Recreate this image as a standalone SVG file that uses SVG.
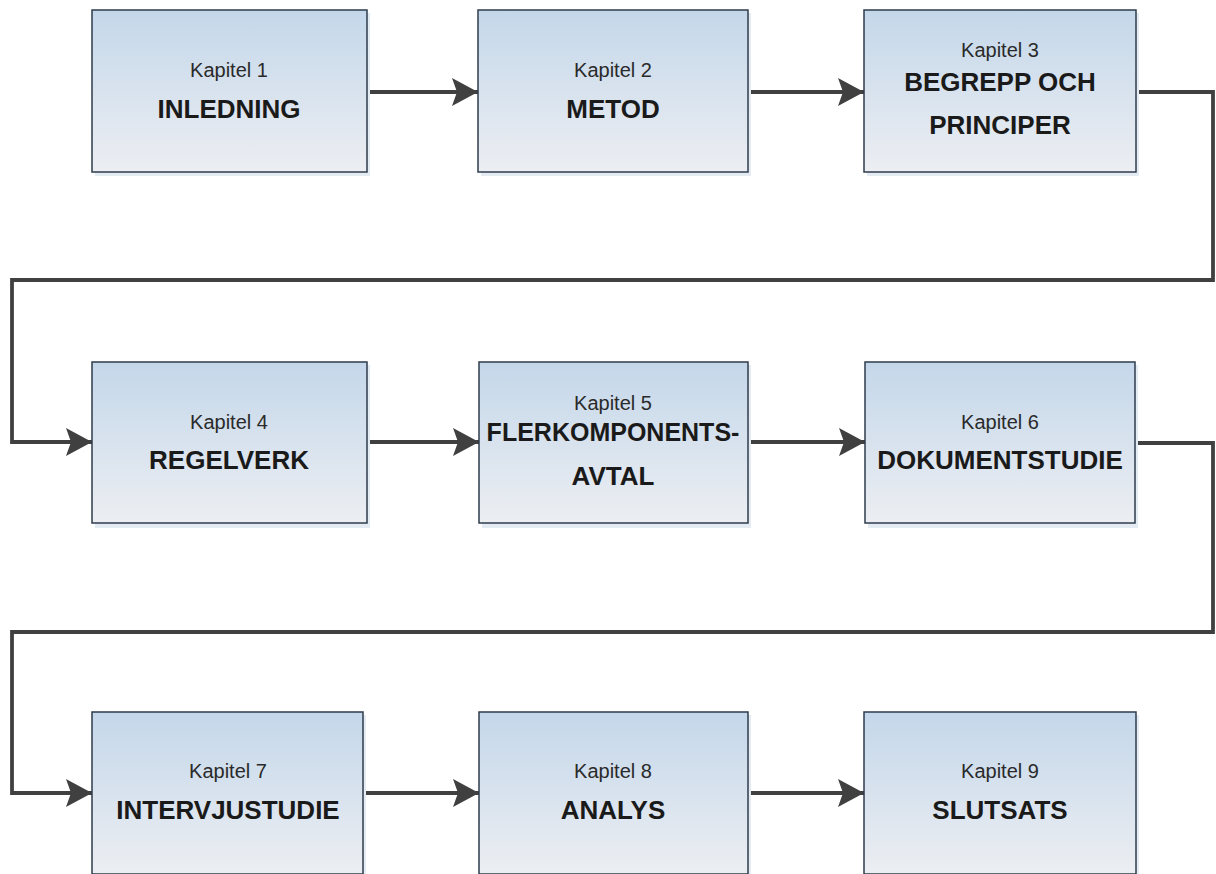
<svg xmlns="http://www.w3.org/2000/svg" width="1216" height="874" viewBox="0 0 1216 874">
<defs>
<linearGradient id="boxfill" x1="0" y1="0" x2="0" y2="1">
<stop offset="0" stop-color="#c4d7ea"/>
<stop offset="1" stop-color="#eceef2"/>
</linearGradient>
<marker id="arrow" markerUnits="userSpaceOnUse" markerWidth="28" markerHeight="30" refX="26" refY="14" orient="auto">
<path d="M0,0 L26,14 L0,28 L5,14 Z" fill="#404040"/>
</marker>
<style>
.box{fill:url(#boxfill);stroke:#2e3c4c;stroke-width:1.5}
.shadow{fill:#e4ebf3}
.cap{font-family:"Liberation Sans",Arial,sans-serif;font-size:20px;fill:#2a2a2a;text-anchor:middle}
.title{font-family:"Liberation Sans",Arial,sans-serif;font-size:26px;font-weight:bold;fill:#1a1a1a;text-anchor:middle}
.conn{fill:none;stroke:#404040;stroke-width:3.8;stroke-linejoin:miter}
</style>
</defs>
<rect width="1216" height="874" fill="#ffffff"/>
<g id="connectors">
<path class="conn" d="M367,92 H478" marker-end="url(#arrow)"/>
<path class="conn" d="M748,92 H864" marker-end="url(#arrow)"/>
<path class="conn" d="M1136,92 H1213 V280 H12 V442 H92" marker-end="url(#arrow)"/>
<path class="conn" d="M367,442 H479" marker-end="url(#arrow)"/>
<path class="conn" d="M748,442 H865" marker-end="url(#arrow)"/>
<path class="conn" d="M1135,443 H1213 V632 H12 V793 H92" marker-end="url(#arrow)"/>
<path class="conn" d="M363,793 H479" marker-end="url(#arrow)"/>
<path class="conn" d="M748,793 H864" marker-end="url(#arrow)"/>
</g>
<g id="node1">
<rect class="shadow" x="95" y="13" width="275" height="163"/>
<rect class="box" x="92" y="10" width="275" height="162"/>
<text class="cap" x="229" y="77">Kapitel 1</text>
<text class="title" x="229" y="118">INLEDNING</text>
</g>
<g id="node2">
<rect class="shadow" x="481" y="13" width="270" height="163"/>
<rect class="box" x="478" y="10" width="270" height="162"/>
<text class="cap" x="613" y="77">Kapitel 2</text>
<text class="title" x="613" y="118">METOD</text>
</g>
<g id="node3">
<rect class="shadow" x="867" y="13" width="272" height="163"/>
<rect class="box" x="864" y="10" width="272" height="162"/>
<text class="cap" x="1000" y="57">Kapitel 3</text>
<text class="title" x="1000" y="91">BEGREPP OCH</text>
<text class="title" x="1000" y="134">PRINCIPER</text>
</g>
<g id="node4">
<rect class="shadow" x="95" y="365" width="275" height="163"/>
<rect class="box" x="92" y="362" width="275" height="161"/>
<text class="cap" x="229" y="429">Kapitel 4</text>
<text class="title" x="229" y="469">REGELVERK</text>
</g>
<g id="node5">
<rect class="shadow" x="482" y="365" width="269" height="163"/>
<rect class="box" x="479" y="362" width="269" height="161"/>
<text class="cap" x="613" y="410">Kapitel 5</text>
<text class="title" x="613" y="441" style="font-size:25px">FLERKOMPONENTS-</text>
<text class="title" x="613" y="485">AVTAL</text>
</g>
<g id="node6">
<rect class="shadow" x="868" y="365" width="270" height="163"/>
<rect class="box" x="865" y="362" width="270" height="161"/>
<text class="cap" x="1000" y="429">Kapitel 6</text>
<text class="title" x="1000" y="469">DOKUMENTSTUDIE</text>
</g>
<g id="node7">
<rect class="shadow" x="95" y="715" width="271" height="163"/>
<rect class="box" x="92" y="712" width="271" height="162"/>
<text class="cap" x="228" y="778">Kapitel 7</text>
<text class="title" x="228" y="819">INTERVJUSTUDIE</text>
</g>
<g id="node8">
<rect class="shadow" x="482" y="715" width="269" height="163"/>
<rect class="box" x="479" y="712" width="269" height="162"/>
<text class="cap" x="613" y="778">Kapitel 8</text>
<text class="title" x="613" y="819">ANALYS</text>
</g>
<g id="node9">
<rect class="shadow" x="867" y="715" width="272" height="163"/>
<rect class="box" x="864" y="712" width="272" height="162"/>
<text class="cap" x="1000" y="778">Kapitel 9</text>
<text class="title" x="1000" y="819">SLUTSATS</text>
</g>
</svg>
